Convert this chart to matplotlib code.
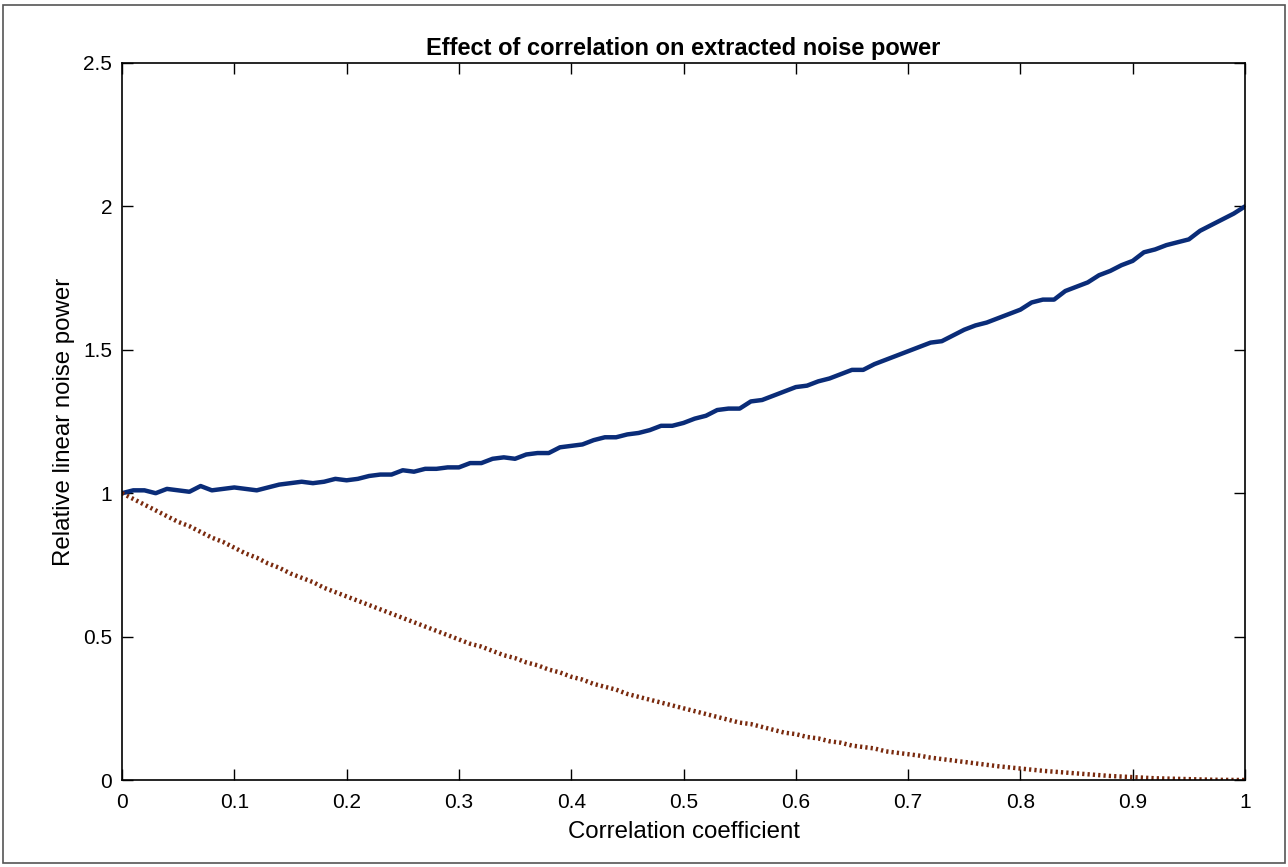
import matplotlib
matplotlib.use("Agg")
import matplotlib.pyplot as plt
from matplotlib.patches import Rectangle

plt.rcParams['font.family'] = ['Liberation Sans', 'DejaVu Sans']

rho = [i / 100 for i in range(101)]

extracted_power = [
    1.000, 1.010, 1.010, 1.000, 1.015, 1.010, 1.005, 1.025, 1.010, 1.015,
    1.020, 1.015, 1.010, 1.020, 1.030, 1.035, 1.040, 1.035, 1.040, 1.050,
    1.045, 1.050, 1.060, 1.065, 1.065, 1.080, 1.075, 1.085, 1.085, 1.090,
    1.090, 1.105, 1.105, 1.120, 1.125, 1.120, 1.135, 1.140, 1.140, 1.160,
    1.165, 1.170, 1.185, 1.195, 1.195, 1.205, 1.210, 1.220, 1.235, 1.235,
    1.245, 1.260, 1.270, 1.290, 1.295, 1.295, 1.320, 1.325, 1.340, 1.355,
    1.370, 1.375, 1.390, 1.400, 1.415, 1.430, 1.430, 1.450, 1.465, 1.480,
    1.495, 1.510, 1.525, 1.530, 1.550, 1.570, 1.585, 1.595, 1.610, 1.625,
    1.640, 1.665, 1.675, 1.675, 1.705, 1.720, 1.735, 1.760, 1.775, 1.795,
    1.810, 1.840, 1.850, 1.865, 1.875, 1.885, 1.915, 1.935, 1.955, 1.975,
    2.000,
]

residual_power = [
    1.000, 0.980, 0.960, 0.940, 0.920, 0.900, 0.885, 0.865, 0.845, 0.830,
    0.810, 0.790, 0.775, 0.755, 0.740, 0.720, 0.705, 0.690, 0.670, 0.655,
    0.640, 0.625, 0.610, 0.595, 0.580, 0.565, 0.550, 0.535, 0.520, 0.505,
    0.490, 0.475, 0.465, 0.450, 0.435, 0.425, 0.410, 0.400, 0.385, 0.375,
    0.360, 0.350, 0.335, 0.325, 0.315, 0.300, 0.290, 0.280, 0.270, 0.260,
    0.250, 0.240, 0.230, 0.220, 0.210, 0.200, 0.195, 0.185, 0.175, 0.165,
    0.160, 0.150, 0.145, 0.135, 0.130, 0.120, 0.115, 0.110, 0.100, 0.095,
    0.090, 0.085, 0.078, 0.073, 0.068, 0.063, 0.058, 0.053, 0.048, 0.044,
    0.040, 0.036, 0.032, 0.029, 0.026, 0.023, 0.020, 0.017, 0.014, 0.012,
    0.010, 0.008, 0.006, 0.005, 0.004, 0.003, 0.002, 0.001, 0.0005, 0.0002,
    0.000,
]

xticks = [0, 0.1, 0.2, 0.3, 0.4, 0.5, 0.6, 0.7, 0.8, 0.9, 1]
xtick_labels = ['0', '0.1', '0.2', '0.3', '0.4', '0.5', '0.6', '0.7', '0.8', '0.9', '1']
yticks = [0, 0.5, 1, 1.5, 2, 2.5]
ytick_labels = ['0', '0.5', '1', '1.5', '2', '2.5']

fig = plt.figure(figsize=(12.88, 8.67), dpi=100)
fig.patches.append(Rectangle((3 / 1288, 4 / 867), 1282 / 1288, 858 / 867,
                             transform=fig.transFigure, fill=False,
                             edgecolor='#555555', linewidth=1.2))
ax = fig.add_axes([122 / 1288, 1 - 780 / 867, 1123 / 1288, 717 / 867])

ax.plot(rho, extracted_power, color='#0a2c78', linewidth=3.2, solid_capstyle='round')
ax.plot(rho, residual_power, color='#7a2a0e', linewidth=3.2, linestyle=(0, (0.5, 0.7)))

ax.set_xlim(0, 1)
ax.set_ylim(0, 2.5)
ax.set_xticks(xticks)
ax.set_xticklabels(xtick_labels)
ax.set_yticks(yticks)
ax.set_yticklabels(ytick_labels)
ax.tick_params(direction='in', length=8, width=1, top=True, right=True,
               labelsize=15)
ax.tick_params(axis='y', pad=7)
ax.tick_params(axis='x', pad=9)
for s in ax.spines.values():
    s.set_linewidth(1.2)

ax.set_title('Effect of correlation on extracted noise power', fontsize=17,
             fontweight='bold', pad=6)
ax.set_xlabel('Correlation coefficient', fontsize=17.3, labelpad=7)
ax.set_ylabel('Relative linear noise power', fontsize=17.3, labelpad=6)

fig.savefig('out.png', dpi=100)
